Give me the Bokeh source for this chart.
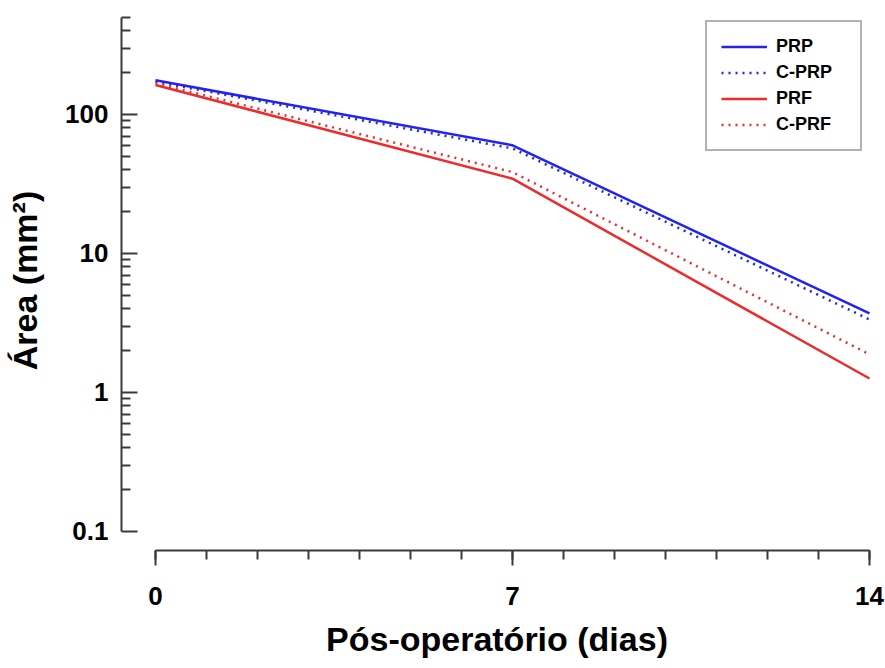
from bokeh.plotting import figure
from bokeh.models import Range1d, FixedTicker, Legend, LegendItem
from bokeh.embed import file_html
from bokeh.resources import INLINE

# ---- data ----
days = [0, 7, 14]
prp = [176, 60, 3.7]
c_prp = [172, 57, 3.35]
prf = [163, 34.5, 1.26]
c_prf = [168, 38.5, 1.88]

x_ticks = [0, 7, 14]
y_ticks = [0.1, 1, 10, 100]
y_tick_labels = ["0.1", "1", "10", "100"]

BLUE = "#2323ee"
RED = "#ee2a2a"
AXIS = "#3a3a3a"
FONT = "Liberation Sans"

# frame geometry (px): x scale 51 px/day, y scale 139 px/decade
frame_w, frame_h = 751, 540
x0 = -34 / 51
x1 = x0 + frame_w / 51
ltop = 2.748
lbot = ltop - frame_h / 139

W, H = 885, 668
p = figure(width=W, height=H, x_range=Range1d(x0, x1),
           y_range=Range1d(10 ** lbot, 10 ** ltop), y_axis_type="log",
           output_backend="svg", toolbar_location=None,
           min_border_left=121, min_border_right=W - 121 - frame_w,
           min_border_top=10, min_border_bottom=H - 10 - frame_h)
p.outline_line_color = None
p.xgrid.visible = False
p.ygrid.visible = False
p.background_fill_color = "white"
p.border_fill_color = "white"

r1 = p.line(days, prp, line_color=BLUE, line_width=2.5)
r2 = p.line(days, c_prp, line_color=BLUE, line_width=2.5, line_dash="2 5")
r3 = p.line(days, prf, line_color=RED, line_width=2.5)
r4 = p.line(days, c_prf, line_color=RED, line_width=2.5, line_dash="2 5")

# x axis
xa = p.xaxis[0]
xa.ticker = FixedTicker(ticks=x_ticks, minor_ticks=list(range(0, 15)))
xa.bounds = (0, 14)
xa.axis_line_color = AXIS
xa.axis_line_width = 2
xa.major_tick_line_color = AXIS
xa.major_tick_line_width = 2
xa.minor_tick_line_color = AXIS
xa.minor_tick_line_width = 2
xa.major_tick_in = 0
xa.major_tick_out = 15
xa.minor_tick_in = 0
xa.minor_tick_out = 9
xa.major_label_text_font = FONT
xa.major_label_text_font_style = "bold"
xa.major_label_text_font_size = "26px"
xa.major_label_text_color = "black"
xa.major_label_standoff = 21
xa.axis_label = "Pós-operatório (dias)"
xa.axis_label_text_font = FONT
xa.axis_label_text_font_style = "bold"
xa.axis_label_text_font_size = "34px"
xa.axis_label_text_color = "black"
xa.axis_label_standoff = 12

# y axis
minor = [m * 10 ** e for e in range(-1, 3) for m in range(2, 10) if m * 10 ** e <= 500]
ya = p.yaxis[0]
ya.ticker = FixedTicker(ticks=y_ticks, minor_ticks=minor)
ya.major_label_overrides = {t: s for t, s in zip(y_ticks, y_tick_labels)}
ya.bounds = (0.1, 500)
ya.axis_line_color = AXIS
ya.axis_line_width = 2
ya.major_tick_line_color = AXIS
ya.major_tick_line_width = 2
ya.minor_tick_line_color = AXIS
ya.minor_tick_line_width = 2
ya.major_tick_in = 16
ya.major_tick_out = 0
ya.minor_tick_in = 9
ya.minor_tick_out = 0
ya.major_label_text_font = FONT
ya.major_label_text_font_style = "bold"
ya.major_label_text_font_size = "26px"
ya.major_label_text_color = "black"
ya.major_label_standoff = 13
ya.axis_label = "Área (mm²)"
ya.axis_label_text_font = FONT
ya.axis_label_text_font_style = "bold"
ya.axis_label_text_font_size = "34px"
ya.axis_label_text_color = "black"
ya.axis_label_standoff = 18

legend = Legend(items=[
    LegendItem(label="PRP", renderers=[r1]),
    LegendItem(label="C-PRP", renderers=[r2]),
    LegendItem(label="PRF", renderers=[r3]),
    LegendItem(label="C-PRF", renderers=[r4]),
], location="top_right")
legend.margin = 10
legend.padding = 14
legend.spacing = 5
legend.glyph_width = 46
legend.glyph_height = 21
legend.label_height = 21
legend.label_width = 70
legend.label_standoff = 9
legend.label_text_font = FONT
legend.label_text_font_style = "bold"
legend.label_text_font_size = "18px"
legend.label_text_color = "black"
legend.border_line_color = "#666666"
legend.border_line_width = 2
legend.background_fill_color = "white"
legend.background_fill_alpha = 1
p.add_layout(legend, "center")

open("out.html", "w").write(file_html(p, INLINE))
